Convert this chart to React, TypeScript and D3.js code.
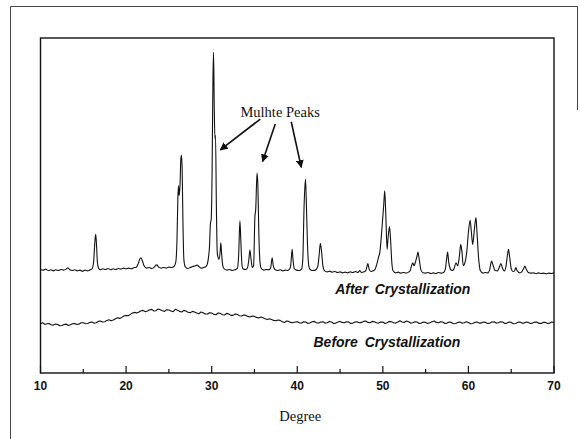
import React from "react";
import * as d3 from "d3";

// ---- data (2-theta in degrees, intensity in arbitrary units incl. offset) ----
const afterPattern: [number, number][] = [
  [10.0, 309], [10.3, 307], [10.6, 310], [10.9, 306], [11.2, 308], [11.5, 305], [11.8, 308],
  [12.1, 306], [12.4, 309], [12.7, 307], [13.0, 310], [13.2, 314], [13.4, 309], [13.7, 306],
  [14.0, 308], [14.3, 305], [14.6, 307], [14.9, 304], [15.2, 307], [15.5, 305], [15.8, 308],
  [16.0, 310], [16.2, 330], [16.35, 390], [16.45, 414], [16.55, 380], [16.65, 330], [16.8, 312],
  [17.0, 308], [17.3, 311], [17.6, 309], [17.9, 312], [18.2, 308], [18.5, 311], [18.8, 309],
  [19.1, 312], [19.4, 310], [19.7, 313], [20.0, 311], [20.3, 313], [20.6, 311], [20.9, 314],
  [21.2, 316], [21.4, 325], [21.6, 340], [21.75, 344], [21.9, 335], [22.1, 320], [22.4, 313],
  [22.7, 315], [23.0, 312], [23.3, 316], [23.5, 322], [23.65, 322], [23.8, 316], [24.1, 313],
  [24.4, 315], [24.7, 313], [25.0, 316], [25.3, 315], [25.6, 318], [25.8, 330], [25.95, 400],
  [26.05, 520], [26.12, 559], [26.2, 530], [26.3, 560], [26.4, 640], [26.47, 650], [26.55, 610],
  [26.65, 440], [26.75, 340], [26.9, 318], [27.2, 312], [27.5, 315], [27.8, 318], [28.1, 320],
  [28.3, 322], [28.5, 318], [28.8, 313], [29.1, 315], [29.4, 320], [29.6, 340], [29.75, 380],
  [29.85, 445], [29.95, 460], [30.05, 600], [30.15, 880], [30.22, 957], [30.3, 800], [30.38, 700],
  [30.45, 709], [30.55, 500], [30.65, 360], [30.75, 345], [30.85, 339], [31.0, 365], [31.07, 389],
  [31.15, 360], [31.3, 320], [31.5, 310], [31.8, 307], [32.1, 309], [32.4, 306], [32.7, 308],
  [33.0, 312], [33.15, 350], [33.3, 454], [33.4, 400], [33.55, 320], [33.7, 310], [34.0, 309],
  [34.2, 315], [34.35, 340], [34.47, 367], [34.6, 340], [34.75, 315], [34.9, 320], [35.05, 465],
  [35.15, 490], [35.3, 597], [35.4, 560], [35.5, 430], [35.65, 330], [35.8, 312], [36.1, 307],
  [36.4, 309], [36.7, 308], [36.9, 315], [37.07, 344], [37.2, 320], [37.4, 309], [37.7, 306],
  [38.0, 308], [38.3, 305], [38.6, 307], [38.9, 306], [39.2, 315], [39.3, 340], [39.4, 369],
  [39.5, 340], [39.65, 312], [39.9, 307], [40.2, 306], [40.5, 310], [40.65, 340], [40.8, 499],
  [40.96, 579], [41.05, 520], [41.2, 380], [41.35, 320], [41.5, 309], [41.8, 306], [42.1, 307],
  [42.4, 318], [42.55, 350], [42.7, 387], [42.85, 360], [43.0, 320], [43.2, 305], [43.5, 302],
  [43.8, 304], [44.1, 301], [44.4, 303], [44.7, 300], [45.0, 302], [45.3, 299], [45.6, 301],
  [45.9, 299], [46.2, 302], [46.5, 300], [46.8, 303], [47.1, 300], [47.3, 306], [47.5, 300],
  [47.8, 302], [48.0, 305], [48.15, 318], [48.25, 327], [48.4, 310], [48.6, 303], [48.9, 305],
  [49.1, 310], [49.3, 325], [49.5, 346], [49.65, 360], [49.8, 400], [49.95, 450], [50.1, 500],
  [50.22, 544], [50.35, 470], [50.5, 369], [50.6, 400], [50.78, 437], [50.9, 400], [51.05, 330],
  [51.2, 305], [51.5, 299], [51.8, 301], [52.1, 298], [52.4, 300], [52.7, 298], [53.0, 301],
  [53.2, 306], [53.35, 320], [53.5, 329], [53.65, 320], [53.8, 330], [54.0, 350], [54.1, 361],
  [54.25, 340], [54.45, 308], [54.7, 299], [55.0, 298], [55.3, 300], [55.6, 297], [55.9, 299],
  [56.2, 297], [56.5, 300], [56.8, 298], [57.1, 300], [57.3, 310], [57.45, 340], [57.57, 361],
  [57.7, 330], [57.9, 310], [58.1, 306], [58.3, 310], [58.55, 329], [58.75, 320], [58.95, 350],
  [59.1, 384], [59.25, 360], [59.4, 320], [59.6, 330], [59.8, 360], [60.0, 420], [60.2, 456],
  [60.35, 420], [60.5, 384], [60.7, 430], [60.88, 464], [61.0, 420], [61.2, 340], [61.4, 305],
  [61.7, 298], [62.0, 300], [62.3, 299], [62.5, 310], [62.7, 334], [62.9, 320], [63.1, 306],
  [63.4, 305], [63.6, 315], [63.8, 327], [63.95, 315], [64.2, 305], [64.4, 320], [64.55, 350],
  [64.68, 369], [64.8, 350], [65.0, 312], [65.2, 303], [65.4, 305], [65.54, 315], [65.7, 305],
  [66.0, 299], [66.2, 301], [66.45, 312], [66.6, 319], [66.75, 310], [67.0, 300], [67.3, 298],
  [67.6, 299], [67.9, 297], [68.2, 299], [68.5, 297], [68.8, 298], [69.1, 296], [69.4, 298],
  [69.7, 297], [70.0, 300],
];

const beforePattern: [number, number][] = [
  [10.0, 147], [10.25, 150], [10.5, 145], [10.75, 147], [11.0, 148], [11.25, 144], [11.5, 143],
  [11.75, 146], [12.0, 145], [12.25, 141], [12.5, 142], [12.75, 145], [13.0, 146], [13.25, 142],
  [13.5, 144], [13.75, 147], [14.0, 148], [14.25, 145], [14.5, 146], [14.75, 150], [15.0, 150],
  [15.25, 147], [15.5, 148], [15.75, 151], [16.0, 152], [16.25, 149], [16.5, 150], [16.75, 154],
  [17.0, 155], [17.25, 152], [17.5, 153], [17.75, 157], [18.0, 159], [18.25, 156], [18.5, 158],
  [18.75, 162], [19.0, 165], [19.25, 163], [19.5, 166], [19.75, 170], [20.0, 172], [20.25, 171],
  [20.5, 175], [20.75, 179], [21.0, 181], [21.25, 179], [21.5, 182], [21.75, 186], [22.0, 187],
  [22.25, 183], [22.5, 185], [22.75, 189], [23.0, 190], [23.25, 185], [23.5, 186], [23.75, 191],
  [24.0, 189], [24.25, 186], [24.5, 184], [24.75, 189], [25.0, 188], [25.25, 185], [25.5, 183],
  [25.75, 190], [26.0, 187], [26.25, 184], [26.5, 182], [26.75, 187], [27.0, 185], [27.25, 181],
  [27.5, 180], [27.75, 184], [28.0, 182], [28.25, 179], [28.5, 177], [28.75, 182], [29.0, 180],
  [29.25, 176], [29.5, 176], [29.75, 180], [30.0, 179], [30.25, 175], [30.5, 174], [30.75, 179],
  [31.0, 178], [31.25, 174], [31.5, 173], [31.75, 178], [32.0, 176], [32.25, 172], [32.5, 172],
  [32.75, 176], [33.0, 175], [33.25, 171], [33.5, 170], [33.75, 173], [34.0, 172], [34.25, 169],
  [34.5, 167], [34.75, 170], [35.0, 169], [35.25, 166], [35.5, 164], [35.75, 167], [36.0, 165],
  [36.25, 162], [36.5, 160], [36.75, 162], [37.0, 160], [37.25, 157], [37.5, 156], [37.75, 158],
  [38.0, 157], [38.25, 153], [38.5, 151], [38.75, 155], [39.0, 154], [39.25, 151], [39.5, 150],
  [39.75, 152], [40.0, 153], [40.25, 150], [40.5, 149], [40.75, 153], [41.0, 152], [41.25, 148],
  [41.5, 150], [41.75, 153], [42.0, 154], [42.25, 150], [42.5, 149], [42.75, 152], [43.0, 153],
  [43.25, 149], [43.5, 150], [43.75, 154], [44.0, 152], [44.25, 148], [44.5, 149], [44.75, 152],
  [45.0, 154], [45.25, 151], [45.5, 150], [45.75, 153], [46.0, 152], [46.25, 148], [46.5, 149],
  [46.75, 152], [47.0, 153], [47.25, 150], [47.5, 151], [47.75, 154], [48.0, 155], [48.25, 151],
  [48.5, 150], [48.75, 154], [49.0, 153], [49.25, 150], [49.5, 149], [49.75, 152], [50.0, 152],
  [50.25, 148], [50.5, 150], [50.75, 154], [51.0, 153], [51.25, 150], [51.5, 149], [51.75, 152],
  [52.0, 156], [52.25, 152], [52.5, 151], [52.75, 155], [53.0, 153], [53.25, 149], [53.5, 150],
  [53.75, 153], [54.0, 152], [54.25, 148], [54.5, 149], [54.75, 152], [55.0, 151], [55.25, 148],
  [55.5, 150], [55.75, 153], [56.0, 155], [56.25, 151], [56.5, 150], [56.75, 153], [57.0, 152],
  [57.25, 148], [57.5, 149], [57.75, 152], [58.0, 151], [58.25, 147], [58.5, 148], [58.75, 151],
  [59.0, 152], [59.25, 149], [59.5, 150], [59.75, 153], [60.0, 151], [60.25, 147], [60.5, 148],
  [60.75, 151], [61.0, 152], [61.25, 149], [61.5, 149], [61.75, 152], [62.0, 151], [62.25, 148],
  [62.5, 149], [62.75, 152], [63.0, 153], [63.25, 149], [63.5, 150], [63.75, 153], [64.0, 152],
  [64.25, 148], [64.5, 149], [64.75, 152], [65.0, 151], [65.25, 147], [65.5, 148], [65.75, 151],
  [66.0, 152], [66.25, 149], [66.5, 149], [66.75, 152], [67.0, 151], [67.25, 148], [67.5, 149],
  [67.75, 152], [68.0, 152], [68.25, 148], [68.5, 148], [68.75, 151], [69.0, 151], [69.25, 148],
  [69.5, 149], [69.75, 152], [70.0, 150],
];

const majorTicks = [10, 20, 30, 40, 50, 60, 70];
const minorTicks = [15, 25, 35, 45, 55, 65];
const xTitle = "Degree";
const peakLabel = { text: "Mulhte Peaks", deg: 38.0, v: 764 };
const peakArrows = [
  { from: [35.68, 758], to: [31.01, 666] },
  { from: [37.43, 743], to: [35.95, 631] },
  { from: [39.3, 750], to: [40.47, 614] },
];
const seriesLabels = [
  { text: "After Crystallization", deg: 44.43, v: 236 },
  { text: "Before Crystallization", deg: 41.9, v: 77 },
];

export default function App() {
  const W = 580, H = 439;
  const left = 40.5, right = 554, top = 38, bottom = 373;
  const x = d3.scaleLinear().domain([10, 70]).range([left, right]);
  const y = d3.scaleLinear().domain([0, 1000]).range([bottom, top]);
  const smooth = d3
    .line<[number, number]>()
    .x((d) => x(d[0]))
    .y((d) => y(d[1]))
    .curve(d3.curveMonotoneX);
  const jagged = d3
    .line<[number, number]>()
    .x((d) => x(d[0]))
    .y((d) => y(d[1]));

  const sans = "'Liberation Sans', Arial, sans-serif";
  const serif = "'Liberation Serif', 'Times New Roman', serif";

  return (
    <svg
      width={W}
      height={H}
      viewBox={`0 0 ${W} ${H}`}
      style={{ position: "absolute", left: 0, top: 0, background: "#fff" }}
    >
      <defs>
        <marker
          id="ah"
          viewBox="0 0 10 10"
          refX="9"
          refY="5"
          markerWidth="5"
          markerHeight="5"
          orient="auto"
          markerUnits="strokeWidth"
        >
          <path d="M0,0 L10,5 L0,10 Z" fill="#111" />
        </marker>
      </defs>
      <rect x={0} y={0} width={W} height={H} fill="#fff" />
      {/* outer frame (partial, as scanned) */}
      <line x1={10.5} y1={6.5} x2={577.5} y2={6.5} stroke="#444" strokeWidth={1} />
      <line x1={10.5} y1={6.5} x2={10.5} y2={H} stroke="#444" strokeWidth={1} />
      <line x1={577.5} y1={6.5} x2={577.5} y2={110} stroke="#444" strokeWidth={1} />

      {/* plot box */}
      <rect
        x={left}
        y={top}
        width={right - left}
        height={bottom - top}
        fill="none"
        stroke="#111"
        strokeWidth={1.4}
      />
      {/* ticks */}
      {majorTicks.map((t) => (
        <line key={"M" + t} x1={x(t)} x2={x(t)} y1={bottom} y2={bottom - 7} stroke="#111" strokeWidth={1.2} />
      ))}
      {minorTicks.map((t) => (
        <line key={"m" + t} x1={x(t)} x2={x(t)} y1={bottom} y2={bottom - 4} stroke="#111" strokeWidth={1.2} />
      ))}
      {majorTicks.map((t) => (
        <text
          key={"l" + t}
          x={x(t)}
          y={390}
          textAnchor="middle"
          fontFamily={sans}
          fontWeight="bold"
          fontSize={12}
          fill="#111"
        >
          {t}
        </text>
      ))}
      <text x={(left + right) / 2 + 3} y={421} textAnchor="middle" fontFamily={serif} fontSize={14.5} fill="#111">
        {xTitle}
      </text>

      {/* patterns */}
      <path d={smooth(afterPattern) || ""} fill="none" stroke="#111" strokeWidth={1.1} strokeLinejoin="round" />
      <path d={jagged(beforePattern) || ""} fill="none" stroke="#111" strokeWidth={1.1} strokeLinejoin="round" />

      {/* annotations */}
      <text
        x={x(peakLabel.deg)}
        y={y(peakLabel.v)}
        textAnchor="middle"
        fontFamily={serif}
        fontSize={14.5}
        fill="#111"
      >
        {peakLabel.text}
      </text>
      {peakArrows.map((a, i) => (
        <line
          key={"a" + i}
          x1={x(a.from[0])}
          y1={y(a.from[1])}
          x2={x(a.to[0])}
          y2={y(a.to[1])}
          stroke="#111"
          strokeWidth={1.6}
          markerEnd="url(#ah)"
        />
      ))}
      {seriesLabels.map((s, i) => (
        <text
          key={"s" + i}
          x={x(s.deg)}
          y={y(s.v)}
          fontFamily={sans}
          fontWeight="bold"
          fontStyle="italic"
          fontSize={14}
          fill="#111"
          style={{ wordSpacing: "3px" }}
        >
          {s.text}
        </text>
      ))}
    </svg>
  );
}
